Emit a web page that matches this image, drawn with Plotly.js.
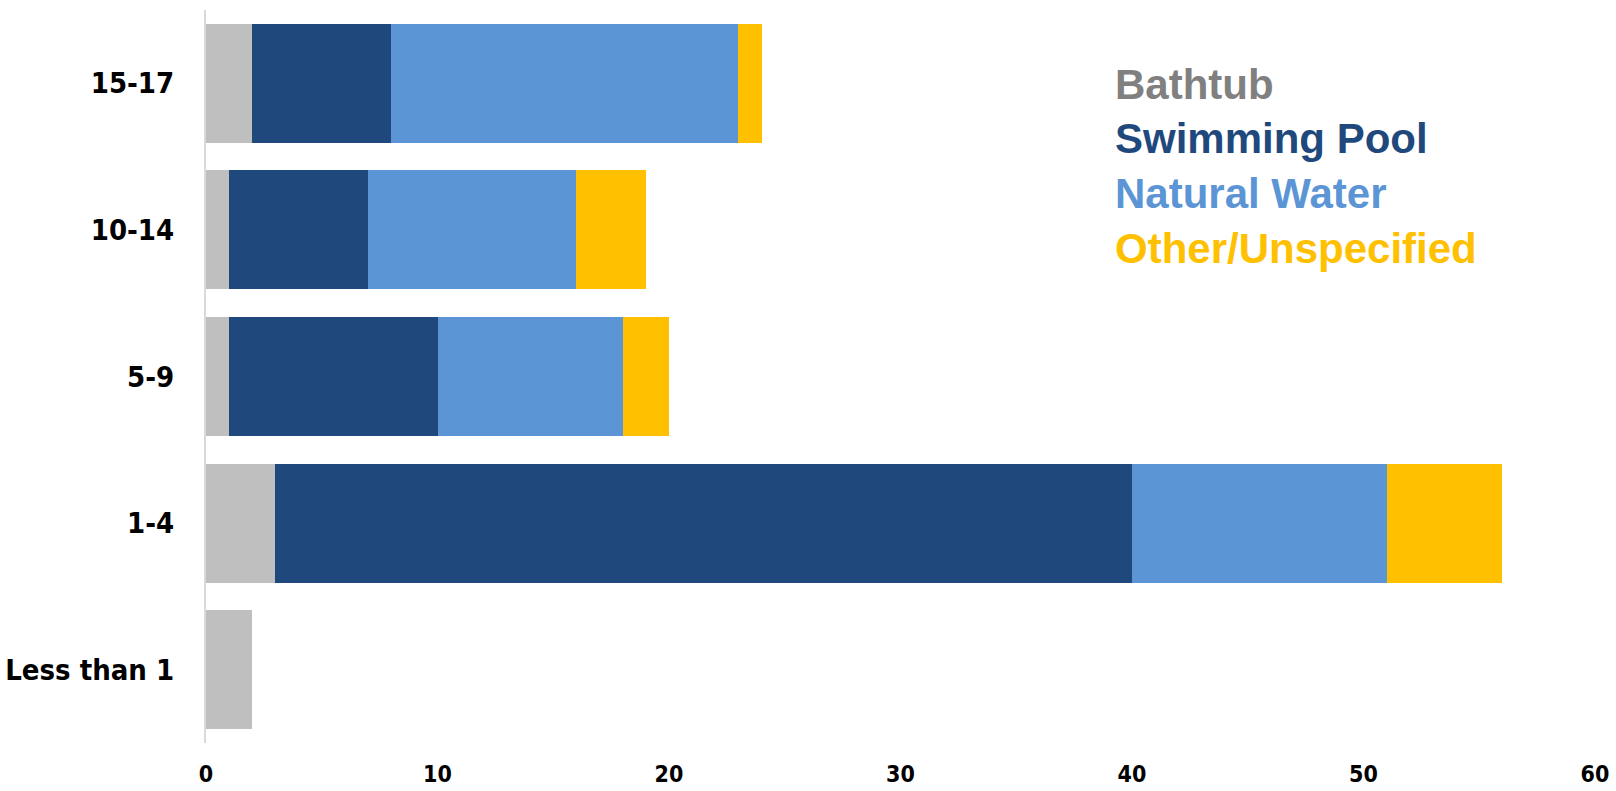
<!DOCTYPE html>
<html>
<head>
<meta charset="utf-8">
<script src="https://cdn.plot.ly/plotly-3.0.1.min.js"></script>
<style>
html,body{margin:0;padding:0;background:#fff;}
#chart{width:1616px;height:791px;}
</style>
</head>
<body>
<div id="chart"></div>
<script>
const ageGroups = ["Less than 1", "1-4", "5-9", "10-14", "15-17"];
const seriesNames = ["Bathtub", "Swimming Pool", "Natural Water", "Other/Unspecified"];
const bathtub = [2, 3, 1, 1, 2];
const swimmingPool = [0, 37, 9, 6, 6];
const naturalWater = [0, 11, 8, 9, 15];
const otherUnspecified = [0, 5, 2, 3, 1];
const xTicks = [0, 10, 20, 30, 40, 50, 60];

const barColors = ["#BFBFBF", "#1F497D", "#5B95D5", "#FFC000"];
const labelColors = ["#808080", "#1F497D", "#5B95D5", "#FFC000"];
const values = [bathtub, swimmingPool, naturalWater, otherUnspecified];

const traces = values.map((v, i) => ({
  type: "bar",
  orientation: "h",
  name: seriesNames[i],
  y: ageGroups,
  x: v,
  marker: {color: barColors[i], line: {width: 0}},
  showlegend: false,
  hoverinfo: "x+y+name"
}));

const legendY = [0.898, 0.825, 0.749, 0.674];
const annotations = seriesNames.map((n, i) => ({
  text: "<b>" + n + "</b>",
  xref: "paper", yref: "paper",
  x: 0.653, y: legendY[i],
  xanchor: "left", yanchor: "middle",
  showarrow: false,
  font: {family: "Liberation Sans, Arial, sans-serif", size: 42, color: labelColors[i]}
}));

const condensed = "DejaVu Sans Condensed, Liberation Sans Narrow, Arial Narrow, sans-serif";

const layout = {
  width: 1616, height: 791,
  margin: {l: 206, r: 21, t: 10, b: 48, pad: 0},
  paper_bgcolor: "#ffffff",
  plot_bgcolor: "#ffffff",
  barmode: "stack",
  bargap: 0.189,
  showlegend: false,
  xaxis: {
    range: [0, 60],
    tickvals: xTicks,
    ticktext: xTicks.map(String),
    showgrid: false,
    zeroline: false,
    showline: false,
    ticks: "",
    ticklabelstandoff: 15,
    tickfont: {family: condensed, size: 23, color: "#000000", weight: "bold"}
  },
  yaxis: {
    type: "category",
    categoryorder: "array",
    categoryarray: ageGroups,
    showgrid: false,
    zeroline: false,
    showline: true,
    linecolor: "#D9D9D9",
    linewidth: 2,
    ticks: "",
    ticklabelstandoff: 24,
    tickfont: {family: condensed, size: 29, color: "#000000", weight: "bold"}
  },
  annotations: annotations
};

Plotly.newPlot("chart", traces, layout, {displayModeBar: false, staticPlot: true});
</script>
</body>
</html>
